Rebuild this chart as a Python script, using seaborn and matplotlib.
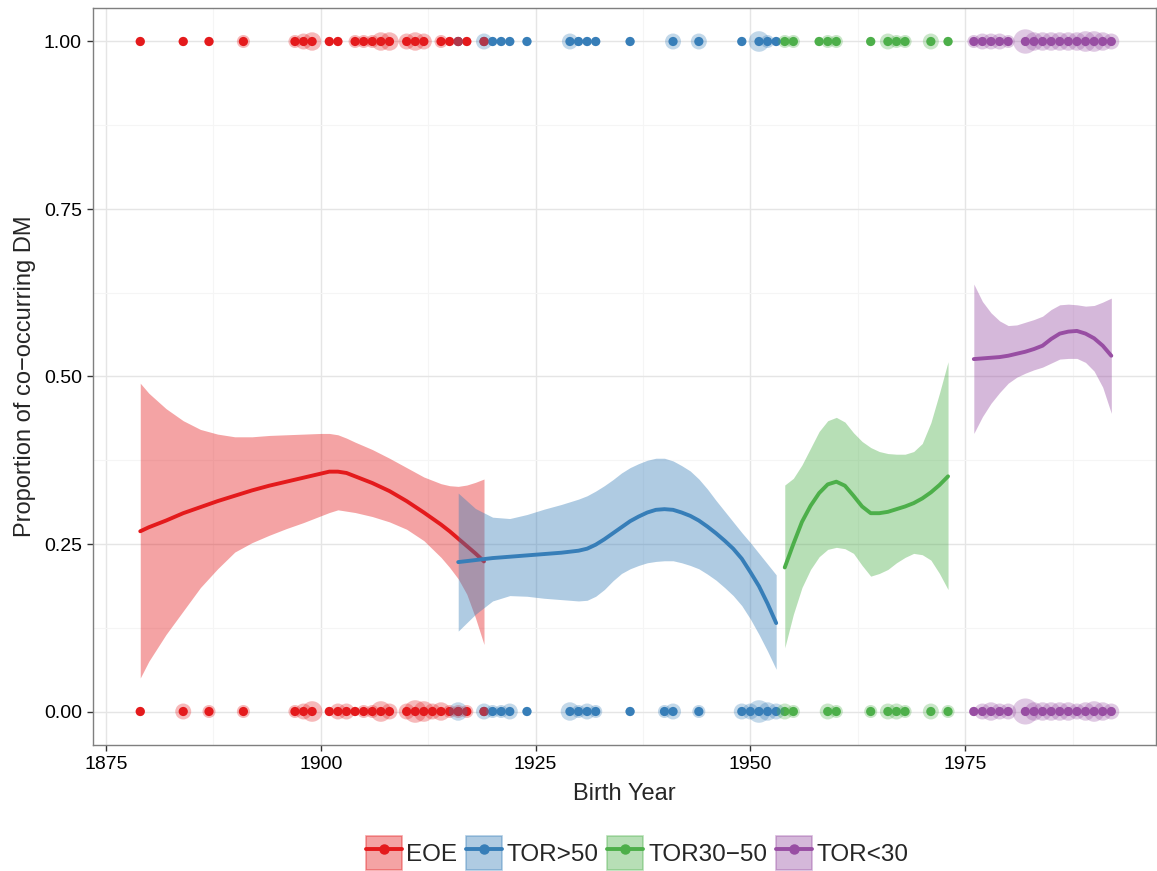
import numpy as np
import pandas as pd
import matplotlib
matplotlib.use("Agg")
import matplotlib.pyplot as plt
import seaborn as sns
from matplotlib.patches import Patch
from matplotlib.lines import Line2D
from matplotlib.legend_handler import HandlerTuple
from matplotlib.ticker import MultipleLocator, FormatStrFormatter

# ---------------- data ----------------
groups = ["EOE", "TOR>50", "TOR30\u221250", "TOR<30"]
colors = ["#E41A1C", "#377EB8", "#4DAF4A", "#984EA3"]

# observed points (y = 1 : co-occurring DM, y = 0 : none), with counts
eoe_yes_years = [1879, 1884, 1887, 1891, 1897, 1898, 1899, 1901, 1902, 1904, 1905, 1906, 1907, 1908,
                 1910, 1911, 1912, 1914, 1915, 1916, 1917, 1919]
eoe_yes_counts = [1, 1, 1, 2, 2, 3, 4, 1, 1, 2, 2, 2, 4, 4, 3, 4, 3, 2, 1, 1, 1, 1]
eoe_no_years = [1879, 1884, 1887, 1891, 1897, 1898, 1899, 1901, 1902, 1903, 1904, 1905, 1906, 1907,
                1908, 1910, 1911, 1912, 1913, 1914, 1915, 1916, 1917, 1919]
eoe_no_counts = [1, 3, 2, 2, 2, 3, 5, 1, 3, 3, 1, 2, 2, 5, 3, 3, 6, 5, 3, 4, 2, 2, 2, 1]

tor50_yes_years = [1916, 1919, 1920, 1921, 1922, 1924, 1929, 1930, 1931, 1932, 1936, 1941, 1944,
                   1949, 1951, 1952, 1953]
tor50_yes_counts = [1, 3, 1, 1, 1, 1, 3, 1, 1, 1, 1, 3, 3, 1, 5, 2, 1]
tor50_no_years = [1916, 1919, 1920, 1921, 1922, 1924, 1929, 1930, 1931, 1932, 1936, 1940, 1941,
                  1944, 1949, 1950, 1951, 1952, 1953]
tor50_no_counts = [4, 3, 2, 2, 3, 1, 4, 2, 3, 2, 1, 2, 3, 2, 3, 3, 6, 4, 3]

tor3050_yes_years = [1954, 1955, 1958, 1959, 1960, 1964, 1966, 1967, 1968, 1971, 1973]
tor3050_yes_counts = [2, 2, 1, 2, 2, 1, 3, 2, 2, 3, 1]
tor3050_no_years = [1954, 1955, 1959, 1960, 1964, 1966, 1967, 1968, 1971, 1973]
tor3050_no_counts = [3, 2, 3, 2, 2, 3, 3, 2, 3, 2]

tor30_yes_years = [1976, 1977, 1978, 1979, 1980, 1982, 1983, 1984, 1985, 1986, 1987, 1988, 1989,
                   1990, 1991, 1992]
tor30_yes_counts = [2, 3, 3, 3, 2, 7, 4, 4, 4, 4, 4, 4, 5, 5, 4, 3]
tor30_no_years = [1976, 1977, 1978, 1979, 1980, 1982, 1983, 1984, 1985, 1986, 1987, 1988, 1989,
                  1990, 1991, 1992]
tor30_no_counts = [1, 3, 4, 3, 3, 8, 4, 4, 4, 4, 4, 3, 4, 5, 4, 3]

# smoothed fits with confidence band
eoe_fit_years = [1879, 1880, 1882, 1884, 1886, 1888, 1890, 1892, 1894, 1896, 1898, 1900, 1901,
                 1902, 1903, 1904, 1906, 1908, 1910, 1912, 1914, 1915, 1916, 1917, 1918, 1919]
eoe_fit = [0.269, 0.275, 0.285, 0.296, 0.305, 0.314, 0.322, 0.330, 0.337, 0.343, 0.349, 0.355, 0.358,
           0.358, 0.356, 0.351, 0.341, 0.329, 0.314, 0.297, 0.279, 0.269, 0.258, 0.247, 0.236, 0.224]
eoe_hi = [0.490, 0.475, 0.452, 0.434, 0.421, 0.414, 0.410, 0.410, 0.412, 0.413, 0.414, 0.415, 0.415,
          0.413, 0.408, 0.402, 0.391, 0.378, 0.364, 0.350, 0.340, 0.337, 0.336, 0.338, 0.342, 0.347]
eoe_lo = [0.050, 0.075, 0.115, 0.150, 0.185, 0.213, 0.238, 0.252, 0.263, 0.273, 0.282, 0.292, 0.297,
          0.301, 0.299, 0.297, 0.291, 0.283, 0.272, 0.255, 0.230, 0.215, 0.198, 0.175, 0.140, 0.100]

tor50_fit_years = [1916, 1918, 1920, 1922, 1924, 1926, 1928, 1930, 1931, 1932, 1933, 1934, 1935,
                   1936, 1937, 1938, 1939, 1940, 1941, 1942, 1943, 1944, 1945, 1946, 1947, 1948,
                   1949, 1950, 1951, 1952, 1953]
tor50_fit = [0.223, 0.226, 0.229, 0.231, 0.233, 0.235, 0.237, 0.240, 0.243, 0.249, 0.257, 0.266,
             0.275, 0.284, 0.291, 0.297, 0.301, 0.302, 0.301, 0.297, 0.292, 0.285, 0.276, 0.266,
             0.255, 0.243, 0.228, 0.208, 0.187, 0.161, 0.132]
tor50_hi = [0.326, 0.303, 0.290, 0.288, 0.294, 0.302, 0.309, 0.317, 0.322, 0.329, 0.337, 0.346,
            0.356, 0.364, 0.370, 0.375, 0.378, 0.378, 0.374, 0.367, 0.359, 0.347, 0.332, 0.315,
            0.299, 0.283, 0.267, 0.252, 0.236, 0.220, 0.204]
tor50_lo = [0.120, 0.145, 0.165, 0.173, 0.172, 0.169, 0.167, 0.165, 0.166, 0.172, 0.182, 0.195,
            0.206, 0.213, 0.218, 0.222, 0.224, 0.225, 0.225, 0.222, 0.218, 0.213, 0.205, 0.196,
            0.185, 0.173, 0.158, 0.138, 0.115, 0.090, 0.063]

tor3050_fit_years = [1954, 1955, 1956, 1957, 1958, 1959, 1960, 1961, 1962, 1963, 1964, 1965, 1966,
                     1967, 1968, 1969, 1970, 1971, 1972, 1973]
tor3050_fit = [0.215, 0.250, 0.283, 0.307, 0.326, 0.339, 0.343, 0.337, 0.322, 0.306, 0.296, 0.296,
               0.298, 0.302, 0.306, 0.311, 0.318, 0.327, 0.338, 0.351]
tor3050_hi = [0.338, 0.348, 0.368, 0.393, 0.418, 0.434, 0.439, 0.432, 0.416, 0.403, 0.394, 0.388,
              0.385, 0.384, 0.384, 0.388, 0.400, 0.431, 0.475, 0.522]
tor3050_lo = [0.095, 0.145, 0.185, 0.212, 0.231, 0.242, 0.245, 0.243, 0.236, 0.218, 0.202, 0.206,
              0.212, 0.222, 0.230, 0.236, 0.234, 0.226, 0.206, 0.182]

tor30_fit_years = [1976, 1977, 1978, 1979, 1980, 1981, 1982, 1983, 1984, 1985, 1986, 1987, 1988,
                   1989, 1990, 1991, 1992]
tor30_fit = [0.526, 0.527, 0.528, 0.529, 0.531, 0.534, 0.537, 0.541, 0.546, 0.556, 0.564, 0.567,
             0.568, 0.564, 0.557, 0.546, 0.531]
tor30_hi = [0.638, 0.612, 0.595, 0.583, 0.576, 0.577, 0.581, 0.585, 0.590, 0.600, 0.607, 0.608,
            0.607, 0.605, 0.606, 0.611, 0.617]
tor30_lo = [0.415, 0.440, 0.460, 0.476, 0.490, 0.499, 0.505, 0.510, 0.514, 0.520, 0.526, 0.527,
            0.527, 0.521, 0.508, 0.484, 0.445]

x_ticks = [1875, 1900, 1925, 1950, 1975]
y_ticks = [0.0, 0.25, 0.5, 0.75, 1.0]

# ---------------- tidy frames ----------------
point_sets = [
    ("EOE", eoe_yes_years, eoe_yes_counts, eoe_no_years, eoe_no_counts),
    ("TOR>50", tor50_yes_years, tor50_yes_counts, tor50_no_years, tor50_no_counts),
    ("TOR30\u221250", tor3050_yes_years, tor3050_yes_counts, tor3050_no_years, tor3050_no_counts),
    ("TOR<30", tor30_yes_years, tor30_yes_counts, tor30_no_years, tor30_no_counts),
]
rows = []
for g, yy, yc, ny, nc in point_sets:
    for a, c in zip(yy, yc):
        rows.append((g, a, 1.0, c))
    for a, c in zip(ny, nc):
        rows.append((g, a, 0.0, c))
pts = pd.DataFrame(rows, columns=["group", "year", "dm", "n"])

fit_sets = [
    ("EOE", eoe_fit_years, eoe_fit, eoe_lo, eoe_hi),
    ("TOR>50", tor50_fit_years, tor50_fit, tor50_lo, tor50_hi),
    ("TOR30\u221250", tor3050_fit_years, tor3050_fit, tor3050_lo, tor3050_hi),
    ("TOR<30", tor30_fit_years, tor30_fit, tor30_lo, tor30_hi),
]
palette = dict(zip(groups, colors))

# ---------------- figure ----------------
sns.set_style("white")
plt.rcParams["font.family"] = ["Liberation Sans", "DejaVu Sans"]

fig = plt.figure(figsize=(11.57, 8.71), dpi=100)
ax = fig.add_axes([93 / 1157, 1 - 745 / 871, (1156 - 93) / 1157, (745 - 8) / 871])

# points: solid dots (EOE drawn last), then translucent count halos
order_solid = ["TOR<30", "TOR30\u221250", "TOR>50", "EOE"]
pts_solid = pd.concat([pts[pts.group == g] for g in order_solid])
sns.scatterplot(data=pts_solid, x="year", y="dm", hue="group", palette=palette,
                s=44, linewidth=0, alpha=1, legend=False, ax=ax, zorder=3)
sns.scatterplot(data=pts, x="year", y="dm", hue="group", palette=palette,
                size="n", sizes=(44, 44 * 8), size_norm=(1, 8),
                linewidth=0, alpha=0.3, legend=False, ax=ax, zorder=4)

# smooths: ribbon then line, group by group
z = 5
for g, xs, fit, lo, hi in fit_sets:
    c = palette[g]
    ax.fill_between(xs, lo, hi, color=c, alpha=0.4, linewidth=0, zorder=z)
    df = pd.DataFrame({"year": xs, "fit": fit})
    sns.lineplot(data=df, x="year", y="fit", color=c, linewidth=2.8, ax=ax,
                 zorder=z + 1, estimator=None)
    z += 2

# axes styling (ggplot theme_bw look)
ax.set_xlim(1873.5, 1997.2)
ax.set_ylim(-0.05, 1.05)
ax.set_xticks(x_ticks)
ax.set_yticks(y_ticks)
ax.xaxis.set_minor_locator(MultipleLocator(12.5))
ax.yaxis.set_minor_locator(MultipleLocator(0.125))
ax.yaxis.set_major_formatter(FormatStrFormatter("%.2f"))
ax.grid(True, which="major", color="#E5E5E5", linewidth=1.0, zorder=0)
ax.grid(True, which="minor", color="#F5F5F5", linewidth=0.8, zorder=0)
ax.set_axisbelow(True)
for s in ax.spines.values():
    s.set_color("#7F7F7F")
    s.set_linewidth(1.0)
ax.tick_params(axis="both", which="major", length=4, width=1, color="#333333",
               labelsize=14, labelcolor="black", pad=4, direction="out",
               bottom=True, left=True)
ax.tick_params(axis="both", which="minor", length=0)
ax.set_xlabel("Birth Year", fontsize=17, labelpad=7)
ax.set_ylabel("Proportion of co\u2212occurring DM", fontsize=17, labelpad=6)

# legend
handles = []
for g in groups:
    c = palette[g]
    patch = Patch(facecolor=c, alpha=0.4, edgecolor=c, linewidth=1.2)
    line = Line2D([], [], color=c, linewidth=2.8, marker="o", markersize=6.5)
    handles.append((patch, line))
fig.legend(handles, groups, loc="center", bbox_to_anchor=(637 / 1157, 1 - 853 / 871),
           ncol=4, frameon=False, fontsize=17.5,
           handler_map={tuple: HandlerTuple(ndivide=1, pad=0)},
           handlelength=1.48, handleheight=1.75, handletextpad=0.2, columnspacing=0.35)

fig.savefig("out.png", dpi=100)
